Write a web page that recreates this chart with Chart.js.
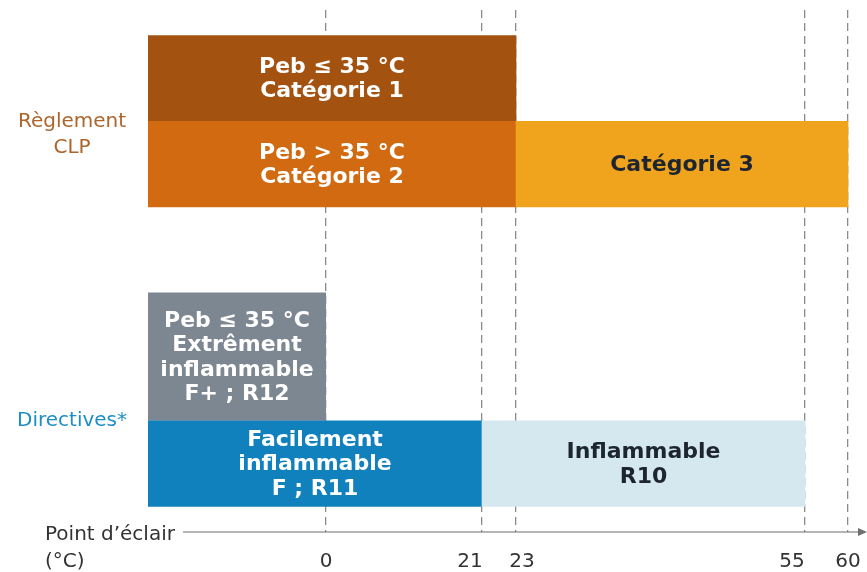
<!DOCTYPE html>
<html lang="fr">
<head>
<meta charset="utf-8">
<title>Point d'éclair – Règlement CLP et Directives</title>
<script src="https://cdn.jsdelivr.net/npm/chart.js@4.4.1/dist/chart.umd.min.js"></script>
<style>
  html, body { margin: 0; padding: 0; background: #fff; }
  #wrap { width: 867px; height: 572px; }
</style>
</head>
<body>
<div id="wrap"><canvas id="flashChart"></canvas></div>
<script>
// ---- données ----
const groupLabels = [['Règlement', 'CLP'], ['Directives*']];
const groupRows = [2.32, 9];   // position des libellés de groupe (en rangées)

const barLabels = [
    ['Peb ≤ 35 °C', 'Catégorie 1'],
    ['Peb > 35 °C', 'Catégorie 2'],
    ['Catégorie 3'],
    ['Peb ≤ 35 °C', 'Extrêment', 'inflammable', 'F+ ; R12'],
    ['Facilement', 'inflammable', 'F ; R11'],
    ['Inflammable', 'R10']
];
const barFrom = [null, null, 23, null, null, 21];   // null = pas de borne basse
const barTo = [23, 23, 60, 0, 21, 55];
const barRows = [1, 3, 3, 7.5, 10, 10];

const tickValues = [0, 21, 23, 55, 60];
const tickLabels = ['0', '21', '23', '55', '60'];

// ---- mise en page / styles ----
const barColors = ['#A4520F', '#D16A10', '#F0A31D', '#7C8791', '#1181BE', '#D5E8F0'];
const textColors = ['#fff', '#fff', '#1d2630', '#fff', '#fff', '#1d2630'];
const tallBars = [3];              // barre sur 3 rangées
const tickShift = [0, -12, 6, -13, 0];

// axe des températures non linéaire : points d'appui (°C) -> position (px depuis le bord gauche)
const knotTemp = [-24, 0, 21, 23, 55, 60, 62.2];
const knotPos = [0, 178, 334, 368, 657, 700, 719];

function toAxis(t) {
    if (t === null) return knotPos[0];
    for (let i = 1; i < knotTemp.length; i++) {
        if (t <= knotTemp[i]) {
            const k = (t - knotTemp[i - 1]) / (knotTemp[i] - knotTemp[i - 1]);
            return knotPos[i - 1] + k * (knotPos[i] - knotPos[i - 1]);
        }
    }
    return knotPos[knotPos.length - 1];
}

const FONT = '"DejaVu Sans", Verdana, sans-serif';
Chart.defaults.font.family = FONT;

function makeSet(indexes, pct) {
    return {
        data: indexes.map(i => ({ x: [toAxis(barFrom[i]), toAxis(barTo[i])], y: barRows[i], i: i })),
        backgroundColor: indexes.map(i => barColors[i]),
        borderWidth: 0,
        grouped: false,
        categoryPercentage: 1,
        barPercentage: pct
    };
}

const normalBars = barLabels.map((_, i) => i).filter(i => !tallBars.includes(i));

// textes dans les barres, axe avec flèche, libellés
const decorPlugin = {
    id: 'decor',
    afterDatasetsDraw(chart) {
        const ctx = chart.ctx;
        chart.data.datasets.forEach((ds, d) => {
            chart.getDatasetMeta(d).data.forEach((bar, j) => {
                const i = ds.data[j].i;
                const p = bar.getProps(['x', 'y', 'base'], true);
                const cx = (p.x + p.base) / 2;
                const lines = barLabels[i];
                ctx.save();
                ctx.font = 'bold 22px ' + FONT;
                ctx.fillStyle = textColors[i];
                ctx.textAlign = 'center';
                ctx.textBaseline = 'middle';
                lines.forEach((l, k) => ctx.fillText(l, cx, p.y + 1 + (k - (lines.length - 1) / 2) * 24.5));
                ctx.restore();
            });
        });
    },
    afterDraw(chart) {
        const ctx = chart.ctx;
        const area = chart.chartArea;
        const xs = chart.scales.x;
        const yb = area.bottom;
        ctx.save();
        // ligne d'axe + flèche
        ctx.strokeStyle = '#6f6f6f';
        ctx.lineWidth = 1.2;
        ctx.beginPath();
        ctx.moveTo(area.left + 35, yb);
        ctx.lineTo(chart.width - 4, yb);
        ctx.stroke();
        ctx.fillStyle = '#6f6f6f';
        ctx.beginPath();
        ctx.moveTo(chart.width, yb);
        ctx.lineTo(chart.width - 9, yb - 4);
        ctx.lineTo(chart.width - 9, yb + 4);
        ctx.closePath();
        ctx.fill();
        // graduations
        ctx.font = '20px ' + FONT;
        ctx.fillStyle = '#333';
        ctx.textAlign = 'center';
        ctx.textBaseline = 'middle';
        tickValues.forEach((v, k) => {
            ctx.fillText(tickLabels[k], xs.getPixelForValue(toAxis(v)) + tickShift[k], yb + 30);
        });
        // titre de l'axe
        ctx.textAlign = 'left';
        ctx.fillText('Point d’éclair', 45, yb + 3);
        ctx.fillText('(°C)', 45, yb + 30);
        ctx.restore();
    }
};

new Chart(document.getElementById('flashChart'), {
    type: 'bar',
    data: {
        datasets: [makeSet(normalBars, 1), makeSet(tallBars, 1.5)]
    },
    options: {
        indexAxis: 'y',
        responsive: true,
        maintainAspectRatio: false,
        animation: false,
        layout: { padding: { top: 10, bottom: 40, left: 0, right: 0 } },
        plugins: { legend: { display: false }, tooltip: { enabled: false } },
        scales: {
            x: {
                type: 'linear',
                min: knotPos[0],
                max: knotPos[knotPos.length - 1],
                afterBuildTicks: axis => { axis.ticks = tickValues.map(v => ({ value: toAxis(v) })); },
                ticks: { display: false },
                grid: { drawTicks: false, color: '#8a8a8a', lineWidth: 1.3 },
                border: { display: false, dash: [8, 5] }
            },
            y: {
                type: 'linear',
                reverse: true,
                offset: false,
                min: -0.6,
                max: 11.6,
                afterBuildTicks: axis => { axis.ticks = groupRows.map(v => ({ value: v })); },
                afterFit: axis => {
                    axis.width = 148;
                    axis.paddingTop = 0;
                    axis.paddingBottom = 0;
                },
                ticks: {
                    callback: (v, i) => groupLabels[i],
                    crossAlign: 'center',
                    padding: 21,
                    font: { size: 20, lineHeight: 1.3 },
                    color: c => ['#AD652C', '#1E8FC6'][c.index]
                },
                grid: { display: false, drawTicks: false },
                border: { display: false }
            }
        }
    },
    plugins: [decorPlugin]
});
</script>
</body>
</html>
